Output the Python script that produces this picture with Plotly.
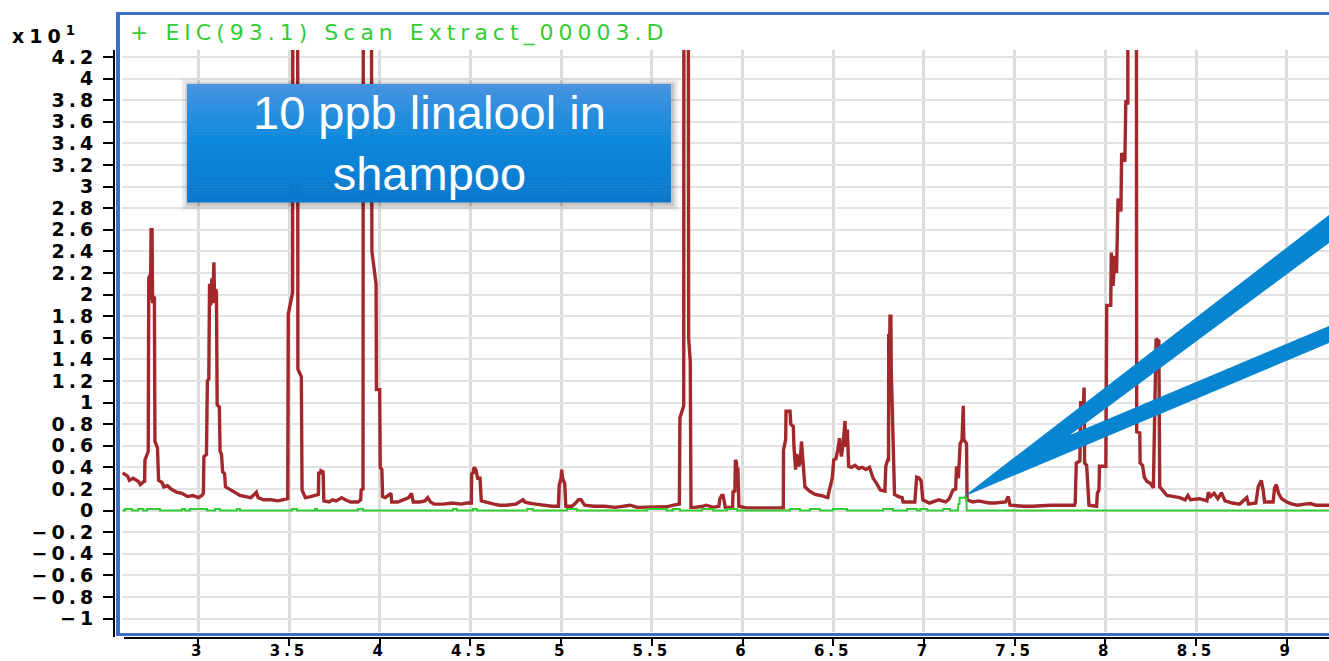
import plotly.graph_objects as go

# ---- chromatogram data (abundance in units of x10^1) ----
rt_tic = [
    2.583, 2.61, 2.62, 2.64, 2.65, 2.67, 2.68, 2.70, 2.704,
    2.706, 2.72, 2.724, 2.727, 2.733, 2.736, 2.74, 2.745, 2.748, 2.753, 2.758, 2.761, 2.775, 2.781,
    2.80, 2.81, 2.83, 2.85, 2.88, 2.91, 2.94, 2.97, 3.0, 3.02, 3.028,
    3.031, 3.045, 3.05, 3.058, 3.062, 3.068, 3.075, 3.08, 3.086, 3.09, 3.096, 3.1, 3.104, 3.116,
    3.12, 3.128, 3.134, 3.145, 3.15, 3.17, 3.19, 3.21, 3.23, 3.26, 3.29, 3.32, 3.33, 3.36, 3.4,
    3.44, 3.48, 3.493,
    3.496, 3.52, 3.522, 3.546, 3.549, 3.568, 3.572, 3.59, 3.62, 3.65, 3.662, 3.664, 3.672, 3.676,
    3.688, 3.692, 3.72, 3.74, 3.76, 3.79, 3.81, 3.84, 3.88, 3.895, 3.898, 3.908,
    3.911, 3.95, 3.952, 3.955, 3.957, 3.98, 3.982, 4.0, 4.003, 4.012, 4.016, 4.03, 4.05, 4.062,
    4.066, 4.1, 4.13, 4.16, 4.175, 4.185, 4.22, 4.25, 4.265, 4.28, 4.3, 4.35, 4.4, 4.45, 4.48,
    4.505, 4.507, 4.515, 4.52, 4.53, 4.54, 4.553, 4.56, 4.6, 4.63, 4.66,
    4.7, 4.75, 4.79, 4.8, 4.82, 4.86, 4.9, 4.95, 4.985,
    4.99, 5.0, 5.003, 5.008, 5.02, 5.026, 5.06, 5.08, 5.095, 5.11, 5.13, 5.18, 5.24, 5.3, 5.36,
    5.38, 5.42, 5.5, 5.58, 5.62, 5.652,
    5.655, 5.676, 5.678, 5.699, 5.703, 5.712, 5.716, 5.74, 5.78, 5.8, 5.84, 5.87,
    5.875, 5.885, 5.893, 5.9, 5.905, 5.945, 5.948, 5.958, 5.961, 5.966, 5.97, 5.975, 5.98, 6.02,
    6.225,
    6.226, 6.238, 6.24, 6.262, 6.266, 6.28, 6.284, 6.293, 6.297, 6.305, 6.31, 6.318, 6.325, 6.33,
    6.336, 6.34, 6.344, 6.37, 6.4, 6.43, 6.47, 6.48, 6.495, 6.503, 6.515, 6.525, 6.535, 6.545,
    6.555, 6.565, 6.57, 6.578, 6.585, 6.6, 6.62, 6.64, 6.66, 6.68, 6.7, 6.71, 6.72, 6.74, 6.76,
    6.785, 6.79, 6.8,
    6.805, 6.806, 6.812, 6.813, 6.818, 6.82, 6.83, 6.838, 6.86, 6.88, 6.885, 6.95, 6.96, 6.975,
    6.985, 6.994, 7.03, 7.06, 7.08, 7.1, 7.12, 7.14,
    7.16, 7.175, 7.18, 7.19, 7.195, 7.2, 7.21, 7.213, 7.217, 7.22, 7.235, 7.238, 7.27, 7.3, 7.33,
    7.36, 7.39, 7.45, 7.465, 7.475, 7.55, 7.6, 7.7, 7.8, 7.83,
    7.834, 7.84, 7.86, 7.864, 7.88, 7.883, 7.886, 7.897, 7.91, 7.952, 7.956, 7.965, 7.968, 7.985,
    8.003, 8.008, 8.03, 8.033, 8.043, 8.052, 8.062, 8.07, 8.086, 8.09, 8.108, 8.113, 8.124,
    8.127, 8.17, 8.173, 8.19, 8.192, 8.205, 8.215, 8.23, 8.25, 8.265, 8.272, 8.28, 8.295, 8.3,
    8.32, 8.34, 8.38, 8.41, 8.44, 8.455, 8.47, 8.52, 8.56, 8.568, 8.58, 8.6, 8.62, 8.64, 8.66,
    8.7, 8.74, 8.78, 8.79, 8.83, 8.843, 8.86, 8.87, 8.878, 8.925, 8.933, 8.943, 8.955, 8.972,
    9.0, 9.03, 9.06, 9.1, 9.13, 9.16, 9.2, 9.233,
]
abund_tic = [
    0.35, 0.32, 0.28, 0.30, 0.29, 0.27, 0.24, 0.27, 0.26,
    0.47, 0.53, 0.55, 2.15, 2.18, 1.95, 2.6, 2.6, 1.92, 1.98, 1.97, 0.64, 0.58, 0.28,
    0.26, 0.22, 0.23, 0.20, 0.17, 0.16, 0.13, 0.14, 0.12, 0.14, 0.16,
    0.50, 0.52, 1.20, 1.22, 2.10, 1.90, 2.15, 1.92, 2.30, 1.92, 2.05, 2.02, 0.98, 0.96,
    0.55, 0.52, 0.36, 0.34, 0.22, 0.20, 0.18, 0.16, 0.14, 0.13, 0.12, 0.17, 0.12, 0.10, 0.10,
    0.09, 0.10, 0.11,
    1.82, 2.02, 9.0, 9.0, 1.31, 1.24, 0.19, 0.12, 0.13, 0.14, 0.15, 0.36, 0.34, 0.37,
    0.36, 0.09, 0.08, 0.10, 0.09, 0.12, 0.10, 0.08, 0.08, 0.10, 0.19, 0.20,
    9.0, 9.0, 4.10, 4.05, 2.40, 2.10, 1.12, 1.12, 0.40, 0.38, 0.13, 0.12, 0.14, 0.16,
    0.08, 0.08, 0.10, 0.12, 0.16, 0.08, 0.08, 0.09, 0.12, 0.08, 0.06, 0.06, 0.07, 0.06, 0.07,
    0.07, 0.34, 0.35, 0.40, 0.38, 0.30, 0.30, 0.09, 0.07, 0.06, 0.05,
    0.05, 0.06, 0.10, 0.08, 0.07, 0.06, 0.05, 0.04, 0.04,
    0.24, 0.30, 0.38, 0.30, 0.25, 0.04, 0.04, 0.07, 0.10, 0.10, 0.05, 0.04, 0.04, 0.03, 0.04,
    0.05, 0.03, 0.035, 0.035, 0.05, 0.06,
    0.86, 0.97, 9.0, 9.0, 1.60, 1.38, 0.03, 0.03, 0.04, 0.05, 0.03, 0.04,
    0.11, 0.14, 0.14, 0.07, 0.03, 0.03, 0.175, 0.18, 0.47, 0.45, 0.38, 0.38, 0.04, 0.025,
    0.025,
    0.56, 0.66, 0.92, 0.92, 0.80, 0.78, 0.58, 0.38, 0.52, 0.50, 0.41, 0.45, 0.64, 0.50,
    0.41, 0.30, 0.22, 0.18, 0.15, 0.14, 0.12, 0.20, 0.30, 0.47, 0.48, 0.56, 0.67, 0.50,
    0.62, 0.83, 0.59, 0.75, 0.41, 0.40, 0.42, 0.39, 0.40, 0.38, 0.40, 0.35, 0.30, 0.25, 0.19,
    0.18, 0.41, 0.47,
    0.47, 1.62, 1.62, 1.80, 1.80, 1.30, 0.69, 0.15, 0.13, 0.12, 0.08, 0.08, 0.31, 0.30,
    0.27, 0.10, 0.07, 0.09, 0.10, 0.09, 0.08, 0.11,
    0.19, 0.20, 0.41, 0.30, 0.45, 0.62, 0.65, 0.97, 0.97, 0.66, 0.62, 0.10, 0.08, 0.09, 0.08,
    0.07, 0.07, 0.08, 0.13, 0.05, 0.04, 0.04, 0.05, 0.05, 0.05,
    0.07, 0.44, 0.46, 1.00, 1.00, 1.14, 0.44, 0.42, 0.05, 0.04, 0.16, 0.19, 0.41, 0.41,
    0.41, 1.90, 1.90, 2.39, 2.08, 2.36, 2.20, 2.89, 2.77, 3.31, 3.23, 3.80, 3.76,
    9.0, 9.0, 0.73, 0.72, 0.44, 0.42, 0.31, 0.27, 0.25, 0.21, 0.87, 1.59, 1.57, 0.22,
    0.18, 0.14, 0.13, 0.12, 0.10, 0.14, 0.10, 0.11, 0.09, 0.17, 0.13, 0.16, 0.11, 0.165, 0.09,
    0.07, 0.06, 0.12, 0.06, 0.07, 0.22, 0.28, 0.19, 0.08, 0.08, 0.21, 0.24, 0.16, 0.11,
    0.08, 0.06, 0.05, 0.06, 0.065, 0.05, 0.05, 0.05,
]

# EIC m/z 93.1: baseline, the linalool peak, and short noise blips
rt_eic_peak = [7.188, 7.19, 7.196, 7.197, 7.234, 7.236]
abund_eic_peak = [0.0, 0.06, 0.06, 0.12, 0.12, 0.0]
eic_blip_start = [2.596, 2.668, 2.717, 2.910, 2.954, 3.092, 3.213, 3.517, 3.643, 3.880,
                  4.404, 4.514, 4.812, 5.032, 5.473, 5.617, 5.777, 5.915, 6.262, 6.372,
                  6.499, 6.775, 6.907, 6.979, 7.106]
eic_blip_end = [2.635, 2.696, 2.789, 2.927, 3.048, 3.120, 3.230, 3.544, 3.654, 3.908,
                4.426, 4.536, 4.846, 5.087, 5.583, 5.655, 5.838, 5.970, 6.317, 6.427,
                6.576, 6.830, 6.962, 7.018, 7.144]
eic_blip_level = 0.015
rt_start, rt_end = 2.583, 9.233

x_tick_vals = [3, 3.5, 4, 4.5, 5, 5.5, 6, 6.5, 7, 7.5, 8, 8.5, 9]
x_tick_text = ["3", "3.5", "4", "4.5", "5", "5.5", "6", "6.5", "7", "7.5", "8", "8.5", "9"]
y_tick_vals = [-1, -0.8, -0.6, -0.4, -0.2, 0, 0.2, 0.4, 0.6, 0.8, 1, 1.2, 1.4, 1.6, 1.8,
               2, 2.2, 2.4, 2.6, 2.8, 3, 3.2, 3.4, 3.6, 3.8, 4, 4.2]
y_tick_text = ["\u22121", "\u22120.8", "\u22120.6", "\u22120.4", "\u22120.2", "0", "0.2", "0.4",
               "0.6", "0.8", "1", "1.2", "1.4", "1.6", "1.8", "2", "2.2", "2.4", "2.6", "2.8",
               "3", "3.2", "3.4", "3.6", "3.8", "4", "4.2"]

trace_title = "+ EIC(93.1) Scan Extract_00003.D"
box_text = "10 ppb linalool in<br>shampoo"

# assemble the EIC trace: flat baseline with blips, then the peak
rt_eic, abund_eic = [rt_start], [0.0]
for a, b in zip(eic_blip_start, eic_blip_end):
    rt_eic += [a, a, b, b]
    abund_eic += [0.0, eic_blip_level, eic_blip_level, 0.0]
rt_eic += rt_eic_peak + [rt_end]
abund_eic += abund_eic_peak + [0.0]

# ---- page geometry ----
W, H = 1329, 661
ML, MR, MT, MB = 114, 0, 50, 23
PW, PH = W - ML - MR, H - MT - MB


def fx(p):
    """pixel column -> paper x"""
    return (p - ML) / PW


def fy(p):
    """pixel row -> paper y"""
    return (H - MB - p) / PH


RED = "#a3282b"
GREEN = "#33cc33"
FRAME = "#3b6ec8"
CALLOUT = "#0785d1"
Y_TICK_FONT = dict(family="DejaVu Sans", size=19, color="black", weight="bold")
X_TICK_FONT = dict(family="DejaVu Sans", size=15, color="black", weight="bold")


def spaced(s, px):
    return f'<span style="letter-spacing:{px}px">{s}</span>'


fig = go.Figure()
fig.add_trace(go.Scatter(x=rt_tic, y=abund_tic, mode="lines",
                         line=dict(color=RED, width=3.4), hoverinfo="skip"))
fig.add_trace(go.Scatter(x=rt_eic, y=abund_eic, mode="lines",
                         line=dict(color=GREEN, width=2), hoverinfo="skip"))

shapes = []
# white gaps between axis lines, frame and grid
shapes.append(dict(type="rect", xref="paper", yref="paper", x0=fx(113), x1=fx(122),
                   y0=fy(638), y1=fy(50), fillcolor="white", line=dict(width=0), layer="above"))
shapes.append(dict(type="rect", xref="paper", yref="paper", x0=fx(113), x1=1.0,
                   y0=fy(638), y1=fy(632), fillcolor="white", line=dict(width=0), layer="above"))
# blue chart frame
shapes.append(dict(type="line", xref="paper", yref="paper", x0=fx(118), x1=fx(118),
                   y0=fy(636), y1=fy(12), line=dict(color=FRAME, width=4), layer="above"))
shapes.append(dict(type="line", xref="paper", yref="paper", x0=fx(116), x1=1.0,
                   y0=fy(13.5), y1=fy(13.5), line=dict(color=FRAME, width=3), layer="above"))
shapes.append(dict(type="line", xref="paper", yref="paper", x0=fx(116), x1=1.0,
                   y0=fy(634.5), y1=fy(634.5), line=dict(color=FRAME, width=3), layer="above"))
# black axis lines
shapes.append(dict(type="line", xref="paper", yref="paper", x0=fx(114), x1=fx(114),
                   y0=fy(637), y1=fy(50), line=dict(color="black", width=2), layer="above"))
shapes.append(dict(type="line", xref="paper", yref="paper", x0=fx(124), x1=1.0,
                   y0=fy(638), y1=fy(638), line=dict(color="black", width=2), layer="above"))

# callout wedge pointing at the EIC peak
pts = [(963, 497), (1329, 215), (1329, 243), (1070, 435), (1329, 326), (1329, 343)]
path = "M " + " L ".join(f"{fx(a):.5f},{fy(b):.5f}" for a, b in pts) + " Z"
shapes.append(dict(type="path", xref="paper", yref="paper", path=path,
                   fillcolor=CALLOUT, line=dict(width=0), layer="above"))

# label box: soft shadow then vertical gradient
bx0, by0, bx1, by1 = 187, 84, 671, 202
for grow, alpha in [(7, 0.035), (5, 0.05), (3, 0.07), (1.5, 0.09)]:
    shapes.append(dict(type="rect", xref="paper", yref="paper",
                       x0=fx(bx0 - grow + 1), x1=fx(bx1 + grow + 1),
                       y0=fy(by1 + grow + 2), y1=fy(by0 - grow + 1),
                       fillcolor=f"rgba(0,0,0,{alpha})", line=dict(width=0), layer="above"))

stops = [(0.0, (74, 148, 224)), (0.45, (14, 137, 221)), (1.0, (8, 120, 204))]


def grad(t):
    for (t0, c0), (t1, c1) in zip(stops[:-1], stops[1:]):
        if t <= t1:
            u = (t - t0) / (t1 - t0)
            return tuple(round(c0[i] + (c1[i] - c0[i]) * u) for i in range(3))
    return stops[-1][1]


nb = 40
for i in range(nb):
    ya = by0 + (by1 - by0) * i / nb
    yb = by0 + (by1 - by0) * (i + 1) / nb
    r, g, b = grad((i + 0.5) / nb)
    shapes.append(dict(type="rect", xref="paper", yref="paper", x0=fx(bx0), x1=fx(bx1),
                       y0=fy(yb + 0.5), y1=fy(ya), fillcolor=f"rgb({r},{g},{b})",
                       line=dict(width=0), layer="above"))

annotations = [
    dict(xref="paper", yref="paper", x=fx((bx0 + bx1) / 2), y=fy(143), text=box_text,
         showarrow=False, xanchor="center", yanchor="middle",
         font=dict(family="Liberation Sans", size=47, color="white")),
    dict(xref="paper", yref="paper", x=fx(128), y=fy(33), text=spaced(trace_title, 5),
         showarrow=False, xanchor="left", yanchor="middle",
         font=dict(family="DejaVu Sans", size=22, color=GREEN)),
    dict(xref="paper", yref="paper", x=fx(10), y=fy(35),
         text=spaced("x10", 5) + '<sup style="font-size:15px">1</sup>',
         showarrow=False, xanchor="left", yanchor="middle",
         font=dict(family="DejaVu Sans", size=19, color="black", weight="bold")),
]

fig.update_layout(
    template="none",
    width=W, height=H,
    margin=dict(l=ML, r=MR, t=MT, b=MB, pad=0),
    paper_bgcolor="white", plot_bgcolor="white",
    showlegend=False,
    shapes=shapes, annotations=annotations,
    xaxis=dict(range=[2.5353, 9.2331], tickmode="array", tickvals=x_tick_vals,
               ticktext=[spaced(t, 4) for t in x_tick_text], automargin=False,
               ticks="outside", ticklen=7, tickwidth=2, tickcolor="black",
               showgrid=True, gridcolor="#dcdcdc", gridwidth=3, showline=False,
               zeroline=False, tickfont=X_TICK_FONT, fixedrange=True, ticklabelstandoff=-8),
    yaxis=dict(range=[-1.1796, 4.2648], tickmode="array", tickvals=y_tick_vals,
               ticktext=[spaced(t, 4) for t in y_tick_text], automargin=False,
               ticks="outside", ticklen=10, tickwidth=2, tickcolor="black",
               showgrid=True, gridcolor="#e3e3e3", gridwidth=2, showline=False,
               zeroline=False, tickfont=Y_TICK_FONT, fixedrange=True, ticklabelstandoff=2),
)

fig.write_html("out.html")
